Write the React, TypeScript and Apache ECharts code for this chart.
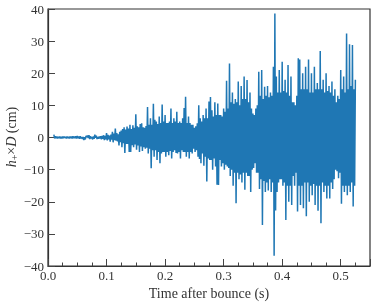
import React, { useEffect, useRef } from "react";
import * as echarts from "echarts";

// Sampling grid of the strain signal (s)
const T_START = 0.01;
const T_STEP = 0.00125;

// h+ × D (cm) samples, one per T_STEP (8 per 0.01 s row)
const strain: number[] = [
  0.9, -0.3, 0.4, -0.2, 0.3, -0.3, 0.2, -0.2,
  0.3, -0.3, 0.2, -0.3, 0.3, -0.2, 0.3, -0.1,
  0.2, -0.3, 0.3, -0.2, 0.2, -0.3, 0.3, -0.2,
  0.3, -0.3, 0.4, -0.2, 0.3, -0.2, 0.4, -0.3,
  0.5, -0.2, 0.3, -0.4, 0.4, -0.3, 0.2, -0.5,
  0.2, -0.8, 0.1, -0.6, 0.5, 0.1, 0.6, -0.2,
  0.7, -0.5, 0.4, -0.3, 0.2, -0.6, 0.3, -0.4,
  0.9, -0.1, 0.6, -0.5, 0.2, -0.4, 0.3, -0.3,
  0.4, -0.6, 0.5, -0.4, 0.7, -0.8, 0.5, -0.6,
  1.4, -0.9, 0.8, -0.6, 0.6, -1.3, 0.9, -0.7,
  1.8, -1.5, 1.2, -0.8, 2.8, -1.0, 1.4, -1.2,
  1.0, -2.5, 1.8, -1.5, 2.2, -3.0, 2.6, -1.8,
  3.2, -4.8, 2.5, -2.0, 3.4, -2.0, 2.8, -4.5,
  4.0, -4.5, 2.6, -2.4, 3.8, -3.0, 3.0, -2.2,
  7.2, -3.8, 3.5, -2.5, 3.2, -4.5, 4.2, -2.8,
  4.4, -4.2, 3.2, -3.0, 3.0, -3.5, 3.6, -3.2,
  9.5, -5.0, 4.0, -3.5, 6.0, -9.6, 4.0, -4.0,
  10.5, -6.0, 5.5, -4.0, 5.0, -7.0, 4.2, -4.5,
  6.5, -8.0, 4.5, -5.0, 10.3, -4.5, 5.0, -4.5,
  7.0, -6.0, 4.5, -4.5, 4.5, -5.5, 5.0, -4.2,
  9.0, -6.5, 4.5, -4.5, 6.0, -4.0, 5.0, -4.8,
  8.0, -5.0, 4.5, -4.5, 5.0, -6.5, 4.5, -4.0,
  6.0, -4.5, 9.2, -4.5, 12.7, -6.0, 4.5, -4.5,
  6.5, -6.5, 4.5, -4.5, 4.0, -5.0, 4.0, -3.5,
  3.0, -4.5, 3.5, -4.0, 4.4, -6.0, 10.0, -6.7,
  6.0, -8.0, 5.0, -5.0, 7.0, -8.8, 6.0, -6.0,
  9.0, -13.7, 6.0, -6.5, 11.2, -7.0, 12.6, -7.0,
  8.5, -10.0, 6.5, -6.5, 11.0, -9.0, 7.0, -14.7,
  10.6, -14.8, 7.0, -7.0, 7.0, -9.0, 6.5, -8.0,
  9.0, -10.0, 8.0, -8.5, 17.7, -9.0, 9.0, -9.5,
  23.0, -12.0, 11.0, -10.0, 14.0, -15.0, 10.5, -11.0,
  12.0, -20.5, 11.0, -11.0, 17.4, -13.0, 10.0, -11.5,
  16.0, -14.0, 12.0, -11.0, 19.0, -16.3, 12.0, -11.0,
  17.9, -12.0, 11.0, -12.0, 14.0, -17.0, 9.0, -10.0,
  7.5, -9.5, 7.0, -8.0, 9.0, -11.0, 10.0, -11.0,
  20.5, -16.0, 13.0, -13.0, 21.0, -27.2, 12.0, -13.5,
  15.8, -17.0, 13.0, -14.0, 16.0, -16.5, 12.5, -13.0,
  14.0, -17.0, 13.0, -14.0, 22.0, -36.8, 38.6, -22.7,
  19.0, -17.0, 14.0, -14.0, 21.0, -13.0, 14.0, -13.0,
  23.6, -15.0, 14.5, -14.0, 18.0, -25.7, 14.0, -15.0,
  22.6, -20.0, 13.0, -15.0, 19.0, -21.0, 11.0, -12.0,
  11.0, -15.0, 10.0, -11.0, 13.0, -23.0, 24.7, -15.0,
  24.3, -21.0, 15.0, -15.0, 20.0, -22.0, 15.0, -14.0,
  22.0, -24.5, 15.0, -14.0, 24.3, -20.0, 14.0, -15.0,
  20.0, -18.0, 14.0, -14.5, 22.0, -21.0, 15.0, -15.0,
  17.0, -22.8, 15.0, -15.0, 26.9, -26.7, 15.0, -14.0,
  18.0, -17.0, 14.0, -15.0, 20.0, -19.0, 14.5, -15.0,
  16.0, -19.0, 14.0, -14.0, 17.4, -16.0, 13.0, -13.0,
  15.0, -10.0, 11.0, -10.5, 13.0, -12.7, 12.0, -11.0,
  21.0, -20.6, 15.0, -15.0, 19.0, -17.0, 14.0, -15.0,
  32.4, -18.0, 15.0, -15.0, 29.0, -17.0, 16.0, -14.0,
  28.8, -21.5, 15.0, -15.0, 18.0,
];

const xTicks = { min: 0, max: 0.55, interval: 0.1 };
const yTicks = { min: -40, max: 40, interval: 10 };

const FONT = "'Liberation Serif', 'DejaVu Serif', serif";
const INK = "#333";

export default function App() {
  const ref = useRef<HTMLDivElement>(null);
  useEffect(() => {
    if (!ref.current) return;
    const chart = echarts.init(ref.current, undefined, { renderer: "svg" });
    const data = strain.map((v, i) => [T_START + i * T_STEP, v]);
    chart.setOption({
      animation: false,
      grid: {
        left: 48,
        right: 4,
        top: 9,
        bottom: 36,
        show: true,
        containLabel: false,
        outerBoundsMode: "none",
        borderColor: INK,
        borderWidth: 1.2,
      },
      graphic: [
        {
          type: "text",
          x: 11,
          y: 137,
          rotation: Math.PI / 2,
          silent: true,
          style: {
            text: "{i|h}{s|+}{n|×}{i|D}{n| (cm)}",
            align: "center",
            verticalAlign: "middle",
            fill: INK,
            rich: {
              i: { fontFamily: FONT, fontSize: 14, fontStyle: "italic", fill: INK },
              n: { fontFamily: FONT, fontSize: 14, fill: INK },
              s: { fontFamily: FONT, fontSize: 10, fill: INK, verticalAlign: "bottom", padding: [6, 0, 0, 0] },
            },
          },
        },
      ],
      xAxis: {
        type: "value",
        min: xTicks.min,
        max: xTicks.max,
        interval: xTicks.interval,
        name: "Time after bounce (s)",
        nameLocation: "middle",
        nameGap: 18,
        nameTextStyle: { fontFamily: FONT, fontSize: 14, color: INK },
        axisLine: { show: true, onZero: false, lineStyle: { color: INK, width: 1.2 } },
        axisTick: { show: true, inside: true, length: 7, lineStyle: { color: "#444" } },
        minorTick: { show: true, splitNumber: 4, length: 3.5, lineStyle: { color: "#444" } },
        splitLine: { show: false },
        axisLabel: {
          showMaxLabel: false,
          margin: 3,
          fontFamily: FONT,
          fontSize: 13,
          color: INK,
          formatter: (v: number) => v.toFixed(1),
        },
      },
      yAxis: {
        type: "value",
        min: yTicks.min,
        max: yTicks.max,
        interval: yTicks.interval,
        axisLine: { show: true, onZero: false, lineStyle: { color: INK, width: 1.2 } },
        axisTick: { show: true, inside: true, length: 7, lineStyle: { color: "#444" } },
        splitLine: { show: false },
        axisLabel: {
          margin: 4,
          fontFamily: FONT,
          fontSize: 13,
          color: INK,
          formatter: (v: number) => (v < 0 ? "\u2212" + Math.abs(v) : String(v)),
        },
      },
      series: [
        {
          type: "line",
          data,
          showSymbol: false,
          symbol: "none",
          lineStyle: { color: "#1f77b4", width: 1.5 },
          silent: true,
        },
      ],
    });
    return () => chart.dispose();
  }, []);
  return (
    <div
      ref={ref}
      style={{ position: "fixed", left: 0, top: 0, width: 374, height: 302 }}
    />
  );
}
